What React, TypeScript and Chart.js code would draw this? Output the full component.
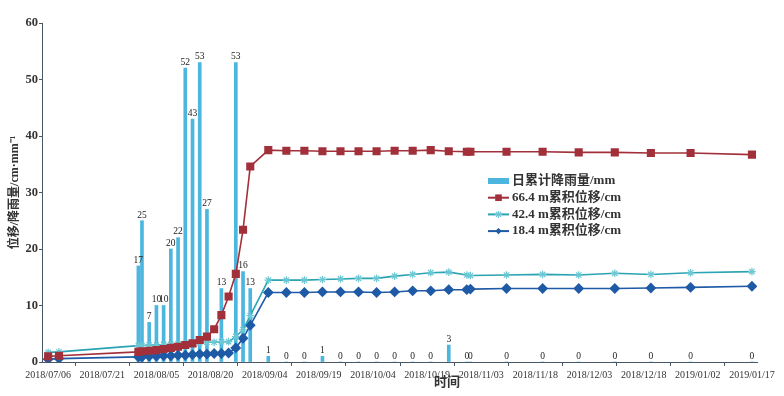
import React, { useEffect, useRef } from "react";
import { Chart, registerables } from "chart.js";

Chart.register(...registerables);

// ---------- data ----------
const tickLabels = [
  "2018/07/06", "2018/07/21", "2018/08/05", "2018/08/20", "2018/09/04",
  "2018/09/19", "2018/10/04", "2018/10/19", "2018/11/03", "2018/11/18",
  "2018/12/03", "2018/12/18", "2019/01/02", "2019/01/17",
];

const rainDates = [
  "2018/07/31", "2018/08/01", "2018/08/03", "2018/08/05", "2018/08/07",
  "2018/08/09", "2018/08/11", "2018/08/13", "2018/08/15", "2018/08/17",
  "2018/08/19", "2018/08/23", "2018/08/27", "2018/08/29", "2018/08/31",
  "2018/09/05", "2018/09/10", "2018/09/15", "2018/09/20", "2018/09/25",
  "2018/09/30", "2018/10/05", "2018/10/10", "2018/10/15", "2018/10/20",
  "2018/10/25", "2018/10/30", "2018/10/31", "2018/11/10", "2018/11/20",
  "2018/11/30", "2018/12/10", "2018/12/20", "2018/12/31", "2019/01/17",
];
const rainValues = [
  17, 25, 7, 10, 10, 20, 22, 52, 43, 53, 27, 13, 53, 16, 13,
  1, 0, 0, 1, 0, 0, 0, 0, 0, 0, 3, 0, 0, 0, 0, 0, 0, 0, 0, 0,
];

const monitorDates = [
  "2018/07/06", "2018/07/09", "2018/07/31", "2018/08/01", "2018/08/03",
  "2018/08/05", "2018/08/07", "2018/08/09", "2018/08/11", "2018/08/13",
  "2018/08/15", "2018/08/17", "2018/08/19", "2018/08/21", "2018/08/23",
  "2018/08/25", "2018/08/27", "2018/08/29", "2018/08/31", "2018/09/05",
  "2018/09/10", "2018/09/15", "2018/09/20", "2018/09/25", "2018/09/30",
  "2018/10/05", "2018/10/10", "2018/10/15", "2018/10/20", "2018/10/25",
  "2018/10/30", "2018/10/31", "2018/11/10", "2018/11/20", "2018/11/30",
  "2018/12/10", "2018/12/20", "2018/12/31", "2019/01/17",
];
const disp664 = [
  1.0, 1.1, 1.8, 1.9, 2.0, 2.1, 2.3, 2.5, 2.7, 3.0,
  3.3, 3.9, 4.5, 5.8, 8.3, 11.6, 15.6, 23.4, 34.6, 37.5,
  37.4, 37.4, 37.3, 37.3, 37.3, 37.3, 37.4, 37.4, 37.5, 37.3,
  37.2, 37.2, 37.2, 37.2, 37.1, 37.1, 37.0, 37.0, 36.7,
];
const disp424 = [
  1.7, 1.8, 2.9, 2.9, 3.0, 3.0, 3.1, 3.1, 3.2, 3.3,
  3.4, 3.4, 3.5, 3.5, 3.6, 3.6, 4.5, 5.7, 8.2, 14.5,
  14.5, 14.5, 14.6, 14.7, 14.8, 14.8, 15.2, 15.5, 15.8, 15.9,
  15.4, 15.3, 15.4, 15.5, 15.4, 15.7, 15.5, 15.8, 16.0,
];
const disp184 = [
  0.5, 0.6, 0.9, 0.9, 1.0, 1.0, 1.1, 1.1, 1.2, 1.2,
  1.3, 1.4, 1.4, 1.5, 1.5, 1.6, 2.5, 4.2, 6.5, 12.3,
  12.3, 12.3, 12.4, 12.4, 12.4, 12.3, 12.4, 12.6, 12.6, 12.8,
  12.8, 12.9, 13.0, 13.0, 13.0, 13.0, 13.1, 13.2, 13.4,
];

const seriesNames = ["日累计降雨量/mm", "66.4 m累积位移/cm", "42.4 m累积位移/cm", "18.4 m累积位移/cm"];

// ---------- helpers ----------
const ORIGIN = Date.UTC(2018, 6, 6);
const toDay = (s: string) => {
  const [y, m, d] = s.split("/").map(Number);
  return (Date.UTC(y, m - 1, d) - ORIGIN) / 86400000;
};

const SERIF = '"Liberation Serif", "Noto Sans CJK SC", serif';
const AXIS = "#4a5866";
const C_BAR = "#4cb6de";
const C_RED = "#a2303b";
const C_TEAL = "#2aa3b2";
const C_TEAL_PT = "#6cc8d4";
const C_BLUE = "#1f5aa6";

const pts = (dates: string[], vals: number[]) => dates.map((d, i) => ({ x: toDay(d), y: vals[i] }));

const barLabelPlugin = {
  id: "barLabels",
  afterDatasetsDraw(chart: any) {
    const ctx = chart.ctx;
    const meta = chart.getDatasetMeta(0);
    ctx.save();
    ctx.font = `9.5px ${SERIF}`;
    ctx.fillStyle = "#222";
    ctx.textAlign = "center";
    ctx.textBaseline = "bottom";
    meta.data.forEach((el: any, i: number) => {
      ctx.fillText(String(rainValues[i]), el.x, el.y - 1);
    });
    ctx.restore();
  },
};

function drawMarker(ctx: CanvasRenderingContext2D, kind: string, x: number, y: number, color: string) {
  ctx.save();
  ctx.fillStyle = color;
  ctx.strokeStyle = color;
  ctx.lineWidth = 1.2;
  if (kind === "rect") {
    ctx.fillRect(x - 3.3, y - 3.3, 6.6, 6.6);
  } else if (kind === "diamond") {
    ctx.beginPath();
    ctx.moveTo(x - 3.2, y);
    ctx.lineTo(x, y - 3.2);
    ctx.lineTo(x + 3.2, y);
    ctx.lineTo(x, y + 3.2);
    ctx.closePath();
    ctx.fill();
  } else if (kind === "star") {
    const r = 3.5;
    ctx.beginPath();
    ctx.moveTo(x - r, y); ctx.lineTo(x + r, y);
    ctx.moveTo(x, y - r); ctx.lineTo(x, y + r);
    const q = r * Math.SQRT1_2;
    ctx.moveTo(x - q, y - q); ctx.lineTo(x + q, y + q);
    ctx.moveTo(x - q, y + q); ctx.lineTo(x + q, y - q);
    ctx.stroke();
  }
  ctx.restore();
}

const legendPlugin = {
  id: "customLegend",
  afterDraw(chart: any) {
    const ctx: CanvasRenderingContext2D = chart.ctx;
    const { left, top } = chart.chartArea;
    const x0 = left + 446;
    const y0 = top + 158;
    const gap = 16.7;
    ctx.save();
    ctx.font = `bold 13px ${SERIF}`;
    ctx.fillStyle = "#333";
    ctx.textBaseline = "middle";
    ctx.textAlign = "left";
    const lineItems = [
      { color: C_RED, mk: "rect", mc: C_RED },
      { color: C_TEAL, mk: "star", mc: C_TEAL_PT },
      { color: C_BLUE, mk: "diamond", mc: C_BLUE },
    ];
    ctx.fillStyle = C_BAR;
    ctx.fillRect(x0, y0 - 3, 21, 6);
    ctx.fillStyle = "#333";
    ctx.fillText(seriesNames[0], x0 + 24, y0);
    lineItems.forEach((it, i) => {
      const y = y0 + gap * (i + 1);
      ctx.strokeStyle = it.color;
      ctx.lineWidth = 2;
      ctx.beginPath();
      ctx.moveTo(x0, y);
      ctx.lineTo(x0 + 21, y);
      ctx.stroke();
      drawMarker(ctx, it.mk, x0 + 10.5, y, it.mc);
      ctx.fillStyle = "#333";
      ctx.fillText(seriesNames[i + 1], x0 + 24, y);
    });
    ctx.font = `bold 13px ${SERIF}`;
    ctx.textAlign = "center";
    ctx.fillText("时间", left + 405, 383);
    ctx.restore();
  },
};

export default function App() {
  const ref = useRef<HTMLCanvasElement | null>(null);

  useEffect(() => {
    document.body.style.margin = "0";
    document.body.style.background = "#fff";
    if (!ref.current) return;
    const chart = new Chart(ref.current, {
      type: "bar",
      data: {
        datasets: [
          {
            type: "bar",
            label: seriesNames[0],
            data: pts(rainDates, rainValues) as any,
            backgroundColor: C_BAR,
            barThickness: 3,
            order: 5,
          },
          {
            type: "line",
            label: seriesNames[1],
            data: pts(monitorDates, disp664) as any,
            borderColor: C_RED,
            backgroundColor: C_RED,
            borderWidth: 1.6,
            pointStyle: "rect",
            pointRadius: 4.6,
            pointBackgroundColor: C_RED,
            pointBorderColor: C_RED,
            tension: 0,
            order: 1,
          },
          {
            type: "line",
            label: seriesNames[2],
            data: pts(monitorDates, disp424) as any,
            borderColor: C_TEAL,
            backgroundColor: C_TEAL_PT,
            borderWidth: 1.6,
            pointStyle: "star",
            pointRadius: 3.8,
            pointBorderColor: C_TEAL_PT,
            pointBorderWidth: 1.2,
            tension: 0,
            order: 2,
          },
          {
            type: "line",
            label: seriesNames[3],
            data: pts(monitorDates, disp184) as any,
            borderColor: C_BLUE,
            backgroundColor: C_BLUE,
            borderWidth: 1.6,
            pointStyle: "rectRot",
            pointRadius: 4.3,
            pointBackgroundColor: C_BLUE,
            pointBorderColor: C_BLUE,
            tension: 0,
            order: 3,
          },
        ],
      },
      options: {
        responsive: false,
        animation: false,
        layout: { padding: { top: 23, right: 27, left: 0, bottom: 0 } },
        plugins: { legend: { display: false }, tooltip: { enabled: false } },
        scales: {
          x: {
            type: "linear",
            min: -1.7,
            max: 196.4,
            offset: false,
            grid: { drawOnChartArea: false, drawTicks: true, tickLength: 4, color: AXIS },
            border: { display: true, color: AXIS, width: 1 },
            afterBuildTicks: (s: any) => {
              s.ticks = tickLabels.map((t) => ({ value: toDay(t) }));
            },
            afterFit: (s: any) => {
              s.height = 34;
              s.paddingLeft = 0;
              s.paddingRight = 0;
            },
            ticks: {
              autoSkip: false,
              maxRotation: 0,
              padding: 3,
              color: "#333",
              font: { family: SERIF, size: 10 },
              callback: (_v: any, i: number) => tickLabels[i],
            },
          },
          y: {
            type: "linear",
            min: 0,
            max: 60,
            grid: { drawOnChartArea: false, drawTicks: true, tickLength: 3, color: AXIS },
            border: { display: true, color: AXIS, width: 1 },
            afterFit: (s: any) => {
              s.width = 42;
            },
            ticks: {
              stepSize: 10,
              padding: 1,
              color: "#333",
              font: { family: SERIF, size: 12.5, weight: "bold" },
            },
            title: {
              display: true,
              text: "位移/降雨量/cm·mm⁻¹",
              color: "#333",
              font: { family: SERIF, size: 12, weight: "bold" },
              padding: { top: 8, bottom: 0 },
            },
          },
        },
      } as any,
      plugins: [barLabelPlugin, legendPlugin],
    });
    return () => chart.destroy();
  }, []);

  return (
    <div style={{ width: 784, height: 396, background: "#fff" }}>
      <canvas ref={ref} width={784} height={396} style={{ display: "block" }} />
    </div>
  );
}
